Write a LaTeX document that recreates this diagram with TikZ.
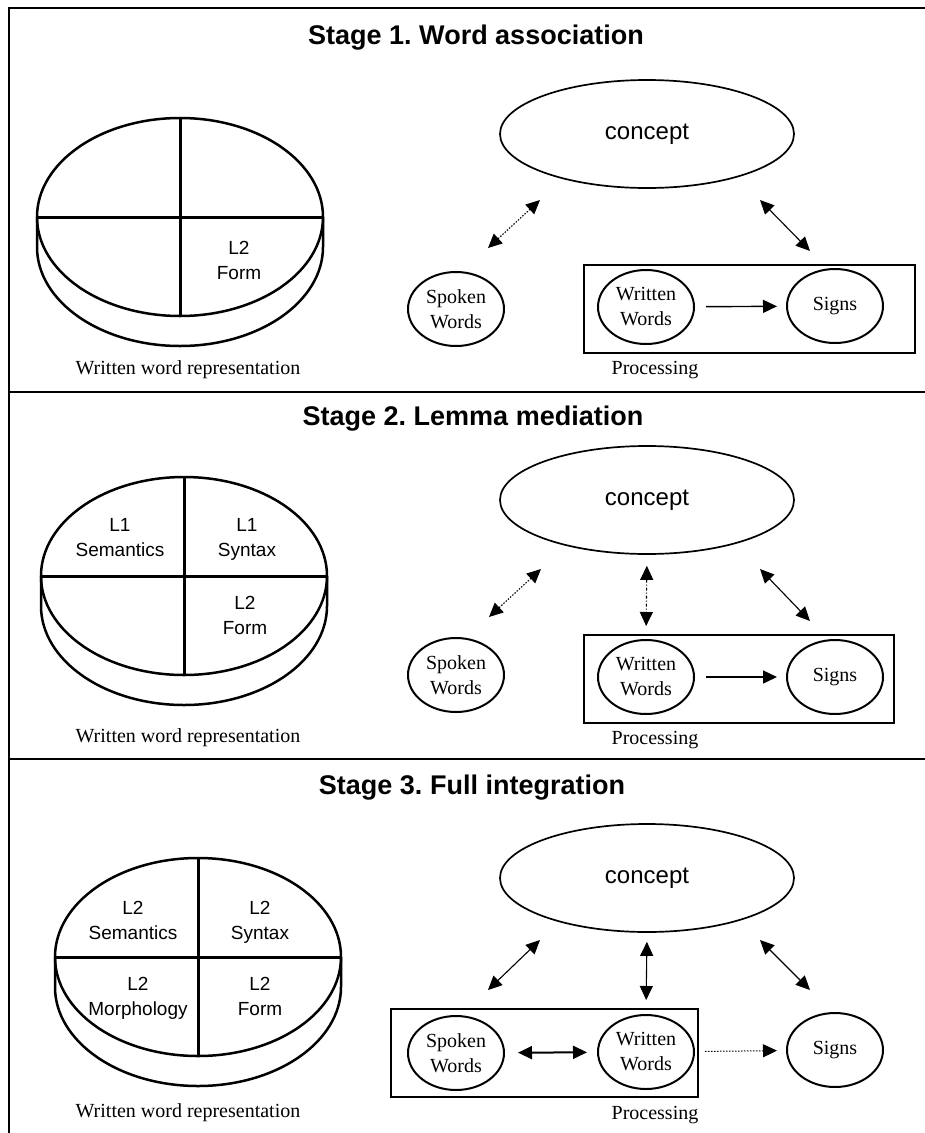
\documentclass[tikz,border=0pt]{standalone}
\usepackage{fontspec}
\setmainfont{Liberation Serif}
\setsansfont{Liberation Sans}
\usetikzlibrary{arrows.meta,shapes.geometric}
\frenchspacing
\newcommand{\diskdraw}[2]{%
  \draw[line width=2.5pt] (#1+143,#2) -- (#1+143,#2+30) arc[start angle=0,end angle=-180,x radius=143pt,y radius=99pt] -- (#1-143,#2);
  \draw[line width=2.5pt] (#1,#2) ellipse[x radius=143pt,y radius=99pt];
  \draw[line width=3pt] (#1-143,#2) -- (#1+143,#2) (#1,#2-99) -- (#1,#2+99);
}
\begin{document}
\begin{tikzpicture}[x=1pt,y=-1pt,
  every node/.style={inner sep=0pt},
  stitle/.style={font=\sffamily\bfseries\fontsize{27}{32}\selectfont},
  lab/.style={font=\sffamily\fontsize{19}{25}\selectfont, align=center},
  capt/.style={font=\fontsize{20}{26}\selectfont},
  conc/.style={draw, ellipse, line width=1.7pt, minimum width=294pt, minimum height=108pt, font=\sffamily\fontsize{24}{28}\selectfont},
  word/.style={draw, ellipse, line width=2pt, minimum width=96pt, minimum height=74pt, align=center, font=\fontsize{20}{25}\selectfont},
  pbox/.style={draw, line width=1.5pt},
  tip/.tip={Triangle[length=14pt,width=13pt]},
  both/.style={tip-tip, line width=1.1pt},
  one/.style={-tip, line width=1.4pt},
  dotl/.style={dash pattern=on 1.5pt off 1.5pt},
  dashdotl/.style={dash pattern=on 3pt off 2pt on 1pt off 2pt}
]
\useasboundingbox (0,0) rectangle (925,1133);
\fill[white] (0,0) rectangle (925,1133);
% frame and separators
\draw[line width=2pt] (925,8) -- (9,8) -- (9,1133);
\draw[line width=2pt] (9,392) -- (925,392);
\draw[line width=2pt] (9,759) -- (925,759);

% ---------- Stage 1 ----------
\node[stitle] (t1) at (476,38) {Stage 1. Word association};
\diskdraw{180}{217}
\node[lab] (f1) at (239,262) {\strut L2\\Form\strut};
\node[capt] (wr1) at (188,370) {Written word representation};
\node[conc] (c1) at (647,134) {concept};
\node[pbox, minimum width=331pt, minimum height=88pt] (pb1) at (749.5,309) {};
\node[word] (sp1) at (456,309) {Spoken\\Words};
\node[word] (ww1) at (646,307) {Written\\Words};
\node[word] (sg1) at (835,306) {Signs};
\node[capt] (pr1) at (655,370) {Processing};
\coordinate (a1s) at (488,248); \coordinate (a1e) at (540,200);
\draw[both, dotl] (a1s) -- (a1e);
\coordinate (a2s) at (760,200); \coordinate (a2e) at (810,251);
\draw[both] (a2s) -- (a2e);
\draw[one, shorten <=11pt, shorten >=9pt] (ww1) -- (sg1);

% ---------- Stage 2 ----------
\node[stitle] (t2) at (473,419) {Stage 2. Lemma mediation};
\diskdraw{184}{576}
\node[lab] (s2a) at (120,539) {\strut L1\\Semantics\strut};
\node[lab] (s2b) at (247,539) {\strut L1\\Syntax\strut};
\node[lab] (s2c) at (245,617) {\strut L2\\Form\strut};
\node[capt] (wr2) at (188,738) {Written word representation};
\node[conc] (c2) at (647,500) {concept};
\node[pbox, minimum width=310pt, minimum height=88pt] (pb2) at (739,679) {};
\node[word] (sp2) at (456,675) {Spoken\\Words};
\node[word] (ww2) at (646,677) {Written\\Words};
\node[word] (sg2) at (835,677) {Signs};
\node[capt] (pr2) at (655,740) {Processing};
\coordinate (b1s) at (489,617); \coordinate (b1e) at (541,569);
\draw[both, dotl] (b1s) -- (b1e);
\draw[both, dashdotl, shorten <=11pt, shorten >=13pt] (c2.south) -- (ww2.north);
\coordinate (b2s) at (760,569); \coordinate (b2e) at (810,621);
\draw[both] (b2s) -- (b2e);
\draw[one, shorten <=11pt, shorten >=9pt] (ww2) -- (sg2);

% ---------- Stage 3 ----------
\node[stitle] (t3) at (472,788) {Stage 3. Full integration};
\diskdraw{198}{957}
\node[lab] (s3a) at (133,922) {\strut L2\\Semantics\strut};
\node[lab] (s3b) at (260,922) {\strut L2\\Syntax\strut};
\node[lab] (s3c) at (138,998) {\strut L2\\Morphology\strut};
\node[lab] (s3d) at (260,998) {\strut L2\\Form\strut};
\node[capt] (wr3) at (188,1113) {Written word representation};
\node[conc] (c3) at (647,878) {concept};
\node[pbox, minimum width=307pt, minimum height=88pt] (pb3) at (544.5,1053) {};
\node[word] (sp3) at (456,1053) {Spoken\\Words};
\node[word] (ww3) at (646,1052) {Written\\Words};
\node[word] (sg3) at (835,1050) {Signs};
\node[capt] (pr3) at (655,1115) {Processing};
\coordinate (d1s) at (488,990); \coordinate (d1e) at (540,940);
\draw[both] (d1s) -- (d1e);
\draw[both, shorten <=9pt, shorten >=14pt] (c3.south) -- (ww3.north);
\coordinate (d2s) at (760,940); \coordinate (d2e) at (810,990);
\draw[both] (d2s) -- (d2e);
\draw[both, line width=2pt, shorten <=13pt, shorten >=10pt] (sp3) -- (ww3);
\draw[one, dotl, line width=1pt, shorten <=10pt, shorten >=9pt] (ww3) -- (sg3);
\end{tikzpicture}
\end{document}
